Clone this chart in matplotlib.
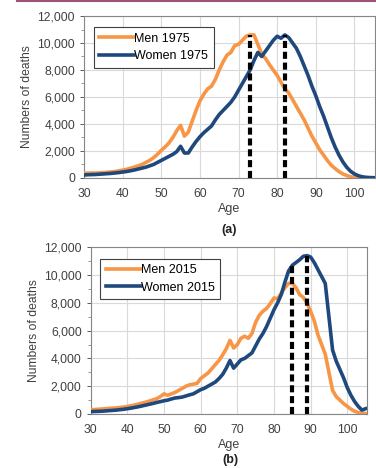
import numpy as np
import matplotlib.pyplot as plt
from matplotlib.lines import Line2D
from matplotlib.ticker import MultipleLocator, FuncFormatter

plt.rcParams['font.family'] = ['Liberation Sans', 'DejaVu Sans']

AGES = list(range(30, 106))

MEN_1975 = [350, 360, 370, 360, 380, 400, 420, 450, 480, 530,
            580, 640, 720, 800, 900, 1000, 1150, 1300, 1500, 1750,
            2050, 2300, 2600, 3000, 3500, 3900, 3100, 3400, 4200, 5000,
            5700, 6200, 6600, 6800, 7300, 8000, 8600, 9100, 9300, 9800,
            9900, 10200, 10500, 10600, 10600, 9900, 9200, 8850, 8400, 8000,
            7600, 7100, 6600, 6300, 5800, 5300, 4800, 4300, 3700, 3100,
            2600, 2100, 1700, 1300, 950, 700, 480, 300, 180, 90,
            40, 15, 5, 0, 0, 0]
WOMEN_1975 = [220, 240, 250, 260, 280, 300, 320, 340, 370, 400,
              440, 480, 530, 590, 660, 730, 800, 900, 1000, 1150,
              1300, 1450, 1600, 1750, 1950, 2350, 1850, 1850, 2300, 2700,
              3050, 3350, 3600, 3850, 4300, 4700, 5000, 5300, 5600, 6000,
              6500, 7000, 7500, 8000, 8700, 9300, 9000, 9400, 9800, 10200,
              10500, 10350, 10600, 10400, 10000, 9600, 9000, 8300, 7600, 6800,
              6100, 5300, 4600, 3800, 3000, 2300, 1700, 1200, 800, 500,
              300, 170, 90, 50, 30, 20]
MEN_2015 = [300, 320, 340, 360, 380, 400, 420, 440, 470, 500,
            540, 590, 650, 710, 780, 850, 930, 1020, 1100, 1250,
            1450, 1350, 1450, 1550, 1700, 1850, 2000, 2100, 2150, 2200,
            2550, 2750, 2950, 3250, 3550, 3850, 4250, 4700, 5300, 4750,
            5000, 5450, 5600, 5450, 5800, 6600, 7100, 7400, 7600, 7950,
            8350, 8300, 8700, 9100, 9400, 9400, 9100, 8600, 8400, 8000,
            7400, 6700, 5700, 5000, 4300, 3000, 1700, 1250, 1000, 750,
            550, 350, 200, 100, 50, 30]
WOMEN_2015 = [170, 180, 190, 200, 220, 240, 260, 280, 310, 340,
              380, 420, 470, 520, 580, 640, 700, 760, 830, 890,
              950, 1000, 1080, 1150, 1180, 1220, 1300, 1380, 1450, 1600,
              1750, 1850, 2000, 2150, 2300, 2550, 2850, 3300, 3850, 3300,
              3600, 3900, 4000, 4200, 4400, 4900, 5400, 5800, 6300, 6900,
              7500, 8000, 8600, 9500, 10300, 10700, 10900, 11100, 11350, 11400,
              11300, 10900, 10400, 9900, 9400, 7000, 4600, 3800, 3200, 2600,
              1900, 1350, 900, 550, 280, 380]

PEAKS_1975 = [73, 82]
PEAKS_2015 = [85, 89]

ORANGE = '#f79646'
BLUE = '#1f497d'


def draw_panel(ax, men, women, peaks, year):
    ax.plot(AGES, men, color=ORANGE, lw=2.6, label=f'Men {year}', zorder=3)
    ax.plot(AGES, women, color=BLUE, lw=2.6, label=f'Women {year}', zorder=3)
    # dashed markers at the peak ages
    for p in peaks:
        top = max(men[AGES.index(p)], women[AGES.index(p)])
        ax.plot([p, p], [0, top], color='black', lw=3, ls=(0, (1.7, 0.9)), zorder=4)

    ax.set_xlim(30, 105.3)
    ax.set_ylim(0, 12000)
    ax.xaxis.set_major_locator(MultipleLocator(10))
    ax.yaxis.set_major_locator(MultipleLocator(2000))
    ax.yaxis.set_minor_locator(MultipleLocator(1000))
    ax.yaxis.set_major_formatter(FuncFormatter(lambda v, _: f'{int(v):,}'))
    ax.grid(True, color='#d9d9d9', lw=0.8)
    ax.set_axisbelow(True)
    for s in ax.spines.values():
        s.set_color('#868686')
        s.set_linewidth(0.8)
    ax.tick_params(labelsize=8.7, colors='#404040', length=3, width=0.6)
    ax.tick_params(axis='y', which='minor', length=2, width=0.6, colors='#868686')
    ax.tick_params(axis='x', length=0, pad=7.5)
    ax.set_xlabel('Age', fontsize=9, color='#404040', labelpad=2)
    ax.set_ylabel('Numbers of deaths', fontsize=8.7, color='#404040', labelpad=3)
    leg = ax.legend(loc='upper left', bbox_to_anchor=(0.012, 0.97), fontsize=9,
                    handlelength=2.8, handletextpad=0.0, borderpad=0.45,
                    labelspacing=0.45, fancybox=False, framealpha=1)
    leg.get_frame().set_edgecolor('#404040')
    leg.get_frame().set_linewidth(0.8)


fig = plt.figure(figsize=(3.76, 4.68), dpi=100)
ax1 = fig.add_axes([0.2234, 0.6197, 0.7736, 0.3461])
ax2 = fig.add_axes([0.2412, 0.1154, 0.7340, 0.3562])

draw_panel(ax1, MEN_1975, WOMEN_1975, PEAKS_1975, 1975)
draw_panel(ax2, MEN_2015, WOMEN_2015, PEAKS_2015, 2015)

fig.text(0.610, 0.509, '(a)', ha='center', va='center', fontsize=9, fontweight='bold', color='#222222')
fig.text(0.612, 0.017, '(b)', ha='center', va='center', fontsize=9, fontweight='bold', color='#222222')

# thin rule along the top edge
fig.add_artist(Line2D([0.045, 1.0], [0.998, 0.998], color='#9e5276', lw=1.5))

fig.savefig('out.png', dpi=100)
